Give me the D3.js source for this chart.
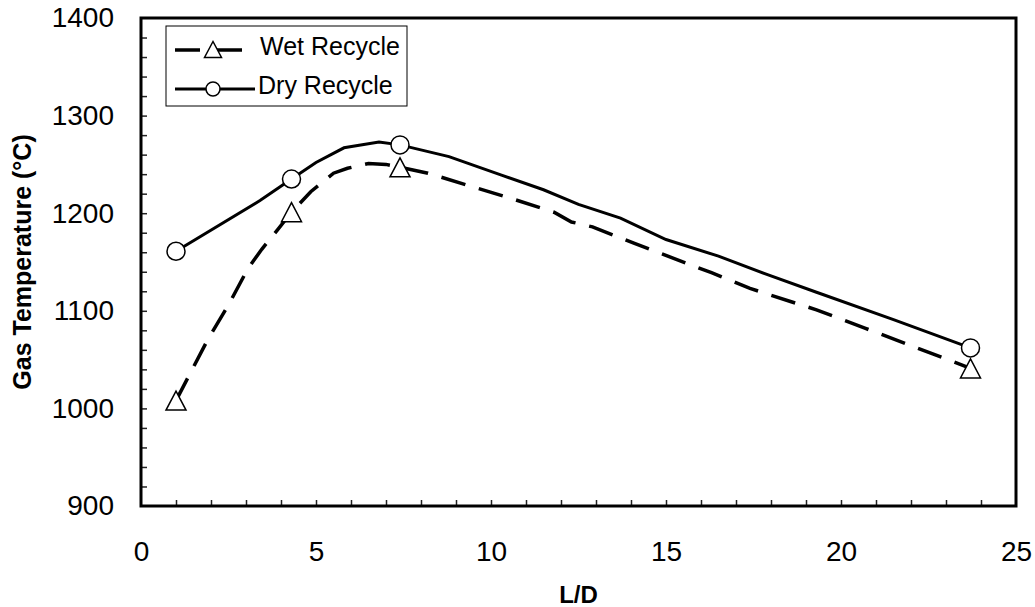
<!DOCTYPE html>
<html>
<head>
<meta charset="utf-8">
<script src="https://cdn.jsdelivr.net/npm/d3@7"></script>
<style>
  body { margin: 0; background: #fff; }
  svg { font-family: "Liberation Sans", Arial, sans-serif; }
</style>
</head>
<body>
<div id="chart"></div>
<script>
// marker points (L/D and gas temperature)
const markLD = [1, 4.3, 7.4, 23.7];
const wetMarks = [1008, 1201, 1247, 1041];
const dryMarks = [1161, 1235, 1270, 1062];

// smoothed curves
const wetCurveLD = [1, 1.9, 2.5, 3.05, 3.45, 3.9, 4.3, 4.85, 5.5, 5.9, 6.5, 7.0, 7.4, 8.2, 9.3, 10.5, 11.8, 12.3, 12.9, 14.1, 15.2, 16.3, 17.4, 18.6, 19.3, 20.7, 22.1, 23.7];
const wetCurveT = [1008, 1070, 1106, 1143, 1163, 1183, 1201, 1222, 1241, 1246, 1251, 1250, 1247, 1241, 1229, 1216, 1201, 1191, 1186, 1169, 1154, 1139, 1123, 1109, 1101, 1082, 1063, 1041];
const dryCurveLD = [1, 3.4, 4.3, 5.0, 5.8, 6.8, 7.4, 8.8, 10.3, 11.5, 12.5, 13.7, 15.0, 16.5, 17.9, 19.3, 21.5, 23.7];
const dryCurveT = [1161, 1213, 1235, 1252, 1267, 1273, 1270, 1258, 1239, 1224, 1209, 1195, 1173, 1156, 1137, 1119, 1091, 1062];

const xTicks = [0, 5, 10, 15, 20, 25];
const yTicks = [900, 1000, 1100, 1200, 1300, 1400];

const width = 1035, height = 607;
const plot = {left: 141, right: 1016, top: 18, bottom: 506};

const svg = d3.select("#chart").append("svg")
    .attr("width", width)
    .attr("height", height);

const x = d3.scaleLinear().domain([0, 25]).range([plot.left, plot.right]);
const y = d3.scaleLinear().domain([900, 1400]).range([plot.bottom, plot.top]);

// minor ticks, pointing inward
svg.append("g")
    .attr("transform", `translate(0,${plot.bottom})`)
    .call(d3.axisBottom(x).tickValues(d3.range(1, 25)).tickSize(-6).tickFormat(""))
    .call(g => g.select(".domain").remove())
    .call(g => g.selectAll("line").attr("stroke", "#222").attr("stroke-width", 1.5));
svg.append("g")
    .attr("transform", `translate(${plot.left},0)`)
    .call(d3.axisLeft(y).tickValues(d3.range(920, 1400, 20)).tickSize(-6).tickFormat(""))
    .call(g => g.select(".domain").remove())
    .call(g => g.selectAll("line").attr("stroke", "#222").attr("stroke-width", 1.5));

// tick labels
svg.append("g")
    .attr("transform", `translate(0,${plot.bottom})`)
    .call(d3.axisBottom(x).tickValues(xTicks).tickSize(0).tickPadding(35).tickFormat(d3.format("d")))
    .call(g => g.select(".domain").remove())
    .call(g => g.selectAll("text").attr("font-size", 28).attr("fill", "#000")
        .attr("font-family", "'Liberation Sans', Arial, sans-serif"));
svg.append("g")
    .attr("transform", `translate(${plot.left},0)`)
    .call(d3.axisLeft(y).tickValues(yTicks).tickSize(0).tickPadding(27).tickFormat(d3.format("d")))
    .call(g => g.select(".domain").remove())
    .call(g => g.selectAll("text").attr("font-size", 28).attr("fill", "#000")
        .attr("font-family", "'Liberation Sans', Arial, sans-serif"));

// frame
svg.append("rect")
    .attr("x", plot.left).attr("y", plot.top)
    .attr("width", plot.right - plot.left).attr("height", plot.bottom - plot.top)
    .attr("fill", "none").attr("stroke", "#000").attr("stroke-width", 3);

// axis titles
svg.append("text")
    .attr("x", (plot.left + plot.right) / 2).attr("y", 603)
    .attr("text-anchor", "middle")
    .attr("font-size", 24).attr("font-weight", "bold")
    .text("L/D");
svg.append("text")
    .attr("transform", `translate(31,${(plot.top + plot.bottom) / 2}) rotate(-90)`)
    .attr("text-anchor", "middle")
    .attr("font-size", 25).attr("font-weight", "bold")
    .text("Gas Temperature (°C)");

// curves
const line = d3.line().x(d => x(d[0])).y(d => y(d[1]));
const wetCurve = wetCurveLD.map((v, i) => [v, wetCurveT[i]]);
const dryCurve = dryCurveLD.map((v, i) => [v, dryCurveT[i]]);

svg.append("path").datum(wetCurve)
    .attr("d", line)
    .attr("fill", "none").attr("stroke", "#000")
    .attr("stroke-width", 3.5).attr("stroke-dasharray", "25,14");
svg.append("path").datum(dryCurve)
    .attr("d", line)
    .attr("fill", "none").attr("stroke", "#000")
    .attr("stroke-width", 3);

function trianglePath(cx, cy, w, h) {
    return `M${cx},${cy - h / 2}L${cx + w / 2},${cy + h / 2}L${cx - w / 2},${cy + h / 2}Z`;
}

// markers
svg.selectAll(".wet-mark")
    .data(markLD.map((v, i) => [v, wetMarks[i]]))
    .enter().append("path")
    .attr("class", "wet-mark")
    .attr("d", d => trianglePath(x(d[0]), y(d[1]), 20, 19))
    .attr("fill", "#fff").attr("stroke", "#000").attr("stroke-width", 1.5);
svg.selectAll(".dry-mark")
    .data(markLD.map((v, i) => [v, dryMarks[i]]))
    .enter().append("circle")
    .attr("class", "dry-mark")
    .attr("cx", d => x(d[0])).attr("cy", d => y(d[1]))
    .attr("r", 9)
    .attr("fill", "#fff").attr("stroke", "#000").attr("stroke-width", 1.5);

// legend
const legend = svg.append("g");
legend.append("rect")
    .attr("x", 166).attr("y", 26).attr("width", 241).attr("height", 80)
    .attr("fill", "#fff").attr("stroke", "#000").attr("stroke-width", 1);
legend.append("line")
    .attr("x1", 175).attr("x2", 243).attr("y1", 50).attr("y2", 50)
    .attr("stroke", "#000").attr("stroke-width", 3.5).attr("stroke-dasharray", "25,17");
legend.append("path")
    .attr("d", trianglePath(213, 49.5, 17, 16))
    .attr("fill", "#fff").attr("stroke", "#000").attr("stroke-width", 1.5);
legend.append("text")
    .attr("x", 260).attr("y", 55).attr("font-size", 25).text("Wet Recycle");
legend.append("line")
    .attr("x1", 175).attr("x2", 255).attr("y1", 89).attr("y2", 89)
    .attr("stroke", "#000").attr("stroke-width", 3);
legend.append("circle")
    .attr("cx", 213).attr("cy", 89).attr("r", 7)
    .attr("fill", "#fff").attr("stroke", "#000").attr("stroke-width", 1.5);
legend.append("text")
    .attr("x", 258).attr("y", 94).attr("font-size", 25).text("Dry Recycle");
</script>
</body>
</html>
